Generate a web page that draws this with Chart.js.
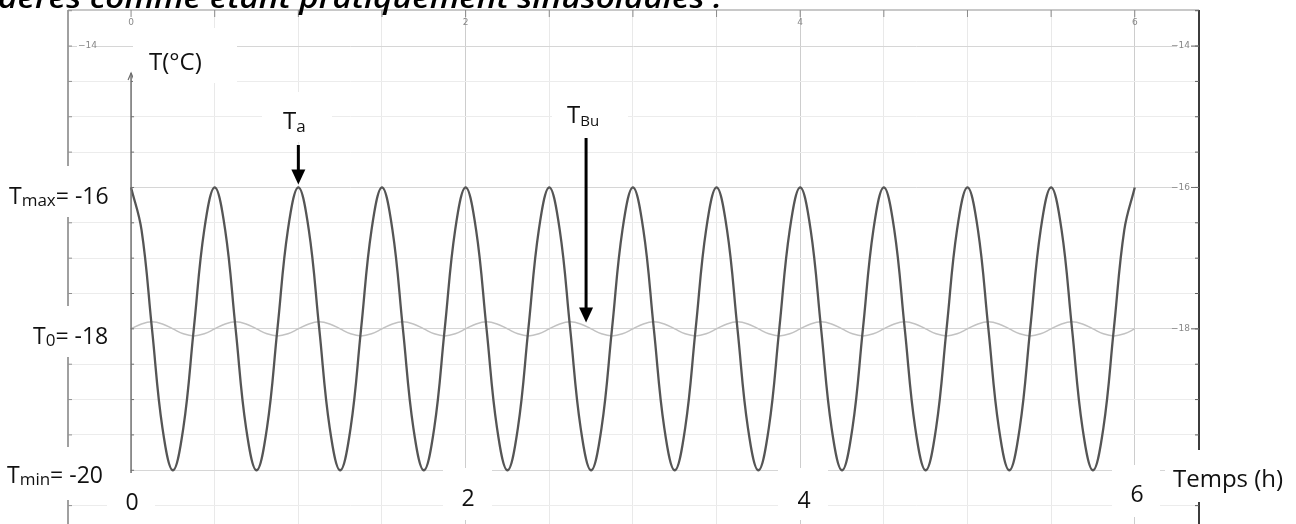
<!DOCTYPE html>
<html><head><meta charset="utf-8">
<script src="https://cdn.jsdelivr.net/npm/chart.js@4.4.1/dist/chart.umd.min.js"></script>
<style>html,body{margin:0;padding:0;background:#fff;overflow:hidden}#wrap{position:relative;width:1296px;height:524px}</style>
</head><body><div id="wrap"><canvas id="c"></canvas></div>
<script>
// time (h)
const hours = [
0,0.0625,0.125,0.1875,0.25,0.3125,0.375,0.4375,
0.5,0.5625,0.625,0.6875,0.75,0.8125,0.875,0.9375,
1,1.0625,1.125,1.1875,1.25,1.3125,1.375,1.4375,
1.5,1.5625,1.625,1.6875,1.75,1.8125,1.875,1.9375,
2,2.0625,2.125,2.1875,2.25,2.3125,2.375,2.4375,
2.5,2.5625,2.625,2.6875,2.75,2.8125,2.875,2.9375,
3,3.0625,3.125,3.1875,3.25,3.3125,3.375,3.4375,
3.5,3.5625,3.625,3.6875,3.75,3.8125,3.875,3.9375,
4,4.0625,4.125,4.1875,4.25,4.3125,4.375,4.4375,
4.5,4.5625,4.625,4.6875,4.75,4.8125,4.875,4.9375,
5,5.0625,5.125,5.1875,5.25,5.3125,5.375,5.4375,
5.5,5.5625,5.625,5.6875,5.75,5.8125,5.875,5.9375,
6];
// air temperature T_a (°C)
const airTemp = [
-16,-16.6,-18,-19.4,-20,-19.4,-18,-16.6,
-16,-16.6,-18,-19.4,-20,-19.4,-18,-16.6,
-16,-16.6,-18,-19.4,-20,-19.4,-18,-16.6,
-16,-16.6,-18,-19.4,-20,-19.4,-18,-16.6,
-16,-16.6,-18,-19.4,-20,-19.4,-18,-16.6,
-16,-16.6,-18,-19.4,-20,-19.4,-18,-16.6,
-16,-16.6,-18,-19.4,-20,-19.4,-18,-16.6,
-16,-16.6,-18,-19.4,-20,-19.4,-18,-16.6,
-16,-16.6,-18,-19.4,-20,-19.4,-18,-16.6,
-16,-16.6,-18,-19.4,-20,-19.4,-18,-16.6,
-16,-16.6,-18,-19.4,-20,-19.4,-18,-16.6,
-16,-16.6,-18,-19.4,-20,-19.4,-18,-16.6,
-16];
// product (bulk) temperature T_Bu (°C)
const bulkTemp = [
-18,-17.93,-17.9,-17.93,-18,-18.07,-18.1,-18.07,
-18,-17.93,-17.9,-17.93,-18,-18.07,-18.1,-18.07,
-18,-17.93,-17.9,-17.93,-18,-18.07,-18.1,-18.07,
-18,-17.93,-17.9,-17.93,-18,-18.07,-18.1,-18.07,
-18,-17.93,-17.9,-17.93,-18,-18.07,-18.1,-18.07,
-18,-17.93,-17.9,-17.93,-18,-18.07,-18.1,-18.07,
-18,-17.93,-17.9,-17.93,-18,-18.07,-18.1,-18.07,
-18,-17.93,-17.9,-17.93,-18,-18.07,-18.1,-18.07,
-18,-17.93,-17.9,-17.93,-18,-18.07,-18.1,-18.07,
-18,-17.93,-17.9,-17.93,-18,-18.07,-18.1,-18.07,
-18,-17.93,-17.9,-17.93,-18,-18.07,-18.1,-18.07,
-18,-17.93,-17.9,-17.93,-18,-18.07,-18.1,-18.07,
-18];
const xTickValues = [0, 2, 4, 6];
const xTickLabels = ['0', '2', '4', '6'];
const yTickValues = [-14, -16, -18];
const yTickLabels = ['\u221214', '\u221216', '\u221218'];
const titleText = 'dérés comme étant pratiquement sinusoïdales :';

const FONT = '"Open Sans", Lato, sans-serif';

function line(ctx, x1, y1, x2, y2, color, w) {
  ctx.beginPath(); ctx.strokeStyle = color; ctx.lineWidth = w;
  ctx.moveTo(x1, y1); ctx.lineTo(x2, y2); ctx.stroke();
}
function box(ctx, x1, y1, x2, y2) { ctx.fillStyle = '#fff'; ctx.fillRect(x1, y1, x2 - x1, y2 - y1); }
function subText(ctx, x, y, main, sub, rest, size, subSize, drop) {
  ctx.textAlign = 'left'; ctx.textBaseline = 'alphabetic'; ctx.fillStyle = '#111';
  ctx.font = size + 'px ' + FONT; ctx.fillText(main, x, y);
  let cx = x + ctx.measureText(main).width;
  ctx.font = subSize + 'px ' + FONT; ctx.fillText(sub, cx, y + drop);
  cx += ctx.measureText(sub).width;
  if (rest) { ctx.font = size + 'px ' + FONT; ctx.fillText(rest, cx, y); }
}
function arrowDown(ctx, px, y1, y2) {
  ctx.strokeStyle = '#000'; ctx.fillStyle = '#000'; ctx.lineWidth = 3;
  ctx.beginPath(); ctx.moveTo(px, y1); ctx.lineTo(px, y2 - 12); ctx.stroke();
  ctx.beginPath(); ctx.moveTo(px - 7, y2 - 15); ctx.lineTo(px + 7, y2 - 15); ctx.lineTo(px, y2); ctx.closePath(); ctx.fill();
}

const decor = {
  id: 'decor',
  afterDraw(chart) {
    const {ctx, chartArea: a, scales: {x, y}} = chart;
    const X = v => x.getPixelForValue(v), Y = v => y.getPixelForValue(v);
    ctx.save();
    // frame
    line(ctx, a.left, a.top, a.right, a.top, '#c8c8c8', 2);
    line(ctx, a.left, a.top, a.left, a.bottom, '#a0a0a0', 2);
    line(ctx, a.right, a.top, a.right, a.bottom, '#3c3c3c', 2);
    // top ticks
    for (let t = 0; t <= 6.001; t += 0.5) line(ctx, X(t), a.top, X(t), a.top + 7, '#8a8a8a', 1);
    // side ticks
    for (let v = -20.5; v <= -13.5; v += 0.5) {
      line(ctx, a.left, Y(v), a.left + 4, Y(v), '#909090', 1);
      line(ctx, a.right - 4, Y(v), a.right, Y(v), '#606060', 1);
      if (v <= -14.4 && v >= -20.01) line(ctx, X(0), Y(v), X(0) + 3, Y(v), '#707070', 1);
    }
    // small tick labels
    ctx.font = '9px "DejaVu Sans", sans-serif'; ctx.fillStyle = '#888'; ctx.textBaseline = 'middle';
    ctx.textAlign = 'center';
    xTickValues.forEach((v, i) => ctx.fillText(xTickLabels[i], X(v), a.top + 13));
    ctx.textAlign = 'right';
    yTickValues.forEach((v, i) => {
      ctx.fillStyle = '#fff'; ctx.fillRect(a.right - 22, Y(v) - 5, 14, 10);
      ctx.fillStyle = '#888'; ctx.fillText(yTickLabels[i], a.right - 9, Y(v));
      line(ctx, a.right - 8, Y(v), a.right, Y(v), '#707070', 1);
    });
    ctx.textAlign = 'left';
    ctx.fillStyle = '#fff'; ctx.fillRect(a.left + 9, Y(-14) - 5, 18, 10);
    ctx.fillStyle = '#888'; ctx.fillText(yTickLabels[0], a.left + 10, Y(-14));
    // y axis with arrow at t = 0
    const ax = X(0);
    line(ctx, ax, Y(-14.38), ax, Y(-20.04), '#6e6e6e', 1.5);
    ctx.beginPath(); ctx.strokeStyle = '#6e6e6e'; ctx.lineWidth = 1.2;
    ctx.moveTo(ax - 3, Y(-14.38) + 7); ctx.lineTo(ax, Y(-14.38)); ctx.lineTo(ax + 3, Y(-14.38) + 7); ctx.stroke();

    // white label boxes
    box(ctx, 133, 28, 237, 83);
    box(ctx, 262, 92, 332, 142);
    box(ctx, 552, 88, 628, 136);
    box(ctx, 0, 166, 130, 217);
    box(ctx, 0, 306, 130, 357);
    box(ctx, 0, 447, 130, 500);
    box(ctx, 107, 476, 155, 520);
    box(ctx, 443, 468, 492, 520);
    box(ctx, 778, 468, 828, 520);
    box(ctx, 1112, 465, 1160, 517);
    box(ctx, 1165, 450, 1292, 502);

    // texts
    ctx.fillStyle = '#111'; ctx.textBaseline = 'alphabetic'; ctx.textAlign = 'left';
    ctx.font = '24px ' + FONT; ctx.fillText('T(°C)', 149, 70);
    subText(ctx, 283, 129, 'T', 'a', '', 24, 17, 3);
    subText(ctx, 567, 123, 'T', 'Bu', '', 24, 15, 3);
    subText(ctx, 9, 204, 'T', 'max', '= -16', 23, 17, 2);
    subText(ctx, 33, 344, 'T', '0', '= -18', 23, 17, 2);
    subText(ctx, 7, 483, 'T', 'min', '= -20', 23, 17, 2);
    ctx.font = '23px ' + FONT; ctx.textAlign = 'center';
    ctx.fillText('0', 132, 510);
    ctx.fillText('2', 468, 506);
    ctx.fillText('4', 804, 508);
    ctx.fillText('6', 1137, 502);
    ctx.font = '24px ' + FONT;
    ctx.textAlign = 'left'; ctx.fillText('Temps (h)', 1173, 487);

    // arrows
    arrowDown(ctx, X(1), 145, Y(-16) - 3);
    arrowDown(ctx, X(2.72), 138, Y(-17.91));

    // cut-off title line
    ctx.fillStyle = '#000';
    ctx.font = 'italic 600 29px ' + FONT;
    const w = ctx.measureText(titleText).width;
    ctx.save(); ctx.translate(-2, 8); ctx.scale(724 / w, 1);
    ctx.fillText(titleText, 0, 0); ctx.restore();
    ctx.restore();
  }
};

const gridX = c => {
  const v = c.tick.value;
  if (Math.abs(v) < 1e-6) return 'rgba(0,0,0,0)';
  return Math.abs(v % 2) < 1e-6 ? '#cdcdcd' : '#e9e9e9';
};
const gridY = c => Math.abs(c.tick.value % 2) < 1e-6 ? '#d6d6d6' : '#ececec';

new Chart(document.getElementById('c'), {
  type: 'line',
  data: {
    datasets: [
      { label: 'T_a', data: hours.map((h, i) => ({x: h, y: airTemp[i]})),
        borderColor: '#555555', borderWidth: 2.3, pointRadius: 0, tension: 0.4, fill: false },
      { label: 'T_Bu', data: hours.map((h, i) => ({x: h, y: bulkTemp[i]})),
        borderColor: '#c2c2c2', borderWidth: 1.5, pointRadius: 0, tension: 0.4, fill: false }
    ]
  },
  options: {
    responsive: true, maintainAspectRatio: false, animation: false,
    layout: { padding: { left: 68, top: 10, right: 97, bottom: 0 } },
    plugins: { legend: { display: false }, tooltip: { enabled: false } },
    scales: {
      x: { type: 'linear', min: -0.377, max: 6.384,
           ticks: { display: false, stepSize: 0.5, includeBounds: false },
           grid: { drawTicks: false, color: gridX, lineWidth: 1 }, border: { display: false } },
      y: { type: 'linear', min: -20.76, max: -13.49,
           ticks: { display: false, stepSize: 0.5, includeBounds: false },
           grid: { drawTicks: false, color: gridY, lineWidth: 1 }, border: { display: false } }
    }
  },
  plugins: [decor]
});
</script>
</body></html>
